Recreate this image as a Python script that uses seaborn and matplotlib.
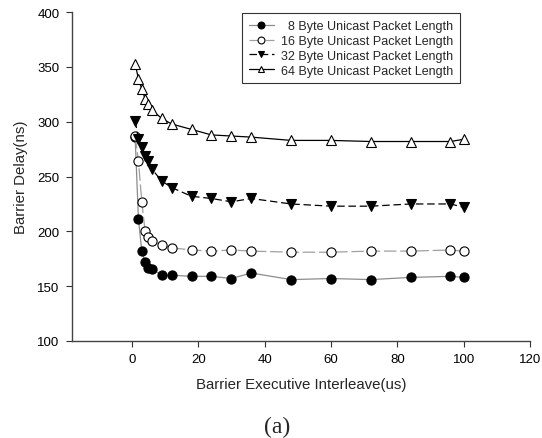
import matplotlib
matplotlib.use("Agg")
import matplotlib.pyplot as plt
import seaborn as sns
import pandas as pd

x_vals = [1, 2, 3, 4, 5, 6, 9, 12, 18, 24, 30, 36, 48, 60, 72, 84, 96, 100]
byte8 = [286, 211, 182, 172, 167, 166, 160, 160, 159, 159, 157, 162, 156, 157, 156, 158, 159, 158]
byte16 = [287, 264, 227, 200, 195, 191, 188, 185, 183, 182, 183, 182, 181, 181, 182, 182, 183, 182]
byte32 = [301, 284, 277, 269, 264, 257, 246, 240, 232, 230, 227, 230, 225, 223, 223, 225, 225, 222]
byte64 = [353, 339, 330, 321, 316, 311, 303, 298, 293, 288, 287, 286, 283, 283, 282, 282, 282, 284]
labels = ["8 Byte Unicast Packet Length", "16 Byte Unicast Packet Length",
          "32 Byte Unicast Packet Length", "64 Byte Unicast Packet Length"]
x_ticks = [0, 20, 40, 60, 80, 100, 120]
y_ticks = [100, 150, 200, 250, 300, 350, 400]

sns.set_style("ticks")
plt.rcParams['font.family'] = ['Liberation Sans', 'DejaVu Sans']

fig = plt.figure(figsize=(5.42, 4.39), dpi=100)
ax = fig.add_axes([0.133, 0.221, 0.845, 0.749])

styles = [
    dict(color="#8c8c8c", ls="-", marker="o", mfc="black", mec="black"),
    dict(color="#a0a0a0", ls=(0, (10, 3)), marker="o", mfc="white", mec="black"),
    dict(color="black", ls=(0, (6, 3)), marker="v", mfc="black", mec="black"),
    dict(color="black", ls="-", marker="^", mfc="white", mec="black"),
]
series = [byte8, byte16, byte32, byte64]
for vals, lab, st in zip(series, labels, styles):
    df = pd.DataFrame({"x": x_vals, "y": vals})
    leg_lab = ("\u2007" + lab) if len(lab.split()[0]) == 1 else lab
    sns.lineplot(data=df, x="x", y="y", ax=ax, color=st["color"], linestyle=st["ls"],
                 linewidth=0.9, marker=st["marker"], markersize=6.6,
                 markerfacecolor=st["mfc"], markeredgecolor=st["mec"], markeredgewidth=0.8,
                 label=leg_lab)

ax.set_xlim(-18, 120)
ax.set_ylim(100, 400)
ax.set_xticks(x_ticks)
ax.set_yticks(y_ticks)
ax.tick_params(direction="out", length=4, width=0.8, labelsize=9.5, pad=5,
               colors="#333333", labelcolor="black")
for s in ["top", "right"]:
    ax.spines[s].set_visible(False)
for s in ["left", "bottom"]:
    ax.spines[s].set_color("#444444")
    ax.spines[s].set_linewidth(1.0)

ax.set_xlabel("Barrier Executive Interleave(us)", fontsize=10.8, labelpad=8)
ax.set_ylabel("Barrier Delay(ns)", fontsize=10.8, labelpad=7)

leg = ax.legend(loc="upper left", bbox_to_anchor=(0.368, 1.0), frameon=True, fancybox=False,
                edgecolor="black", fontsize=9, handlelength=2.0, borderpad=0.55,
                labelspacing=0.22, handletextpad=0.6, markerscale=0.75, borderaxespad=0.1)
leg.get_frame().set_linewidth(0.8)

fig.text(0.512, 0.027, "(a)", ha="center", va="center", fontsize=17, family="Liberation Serif")

fig.savefig("out.png", dpi=100)
